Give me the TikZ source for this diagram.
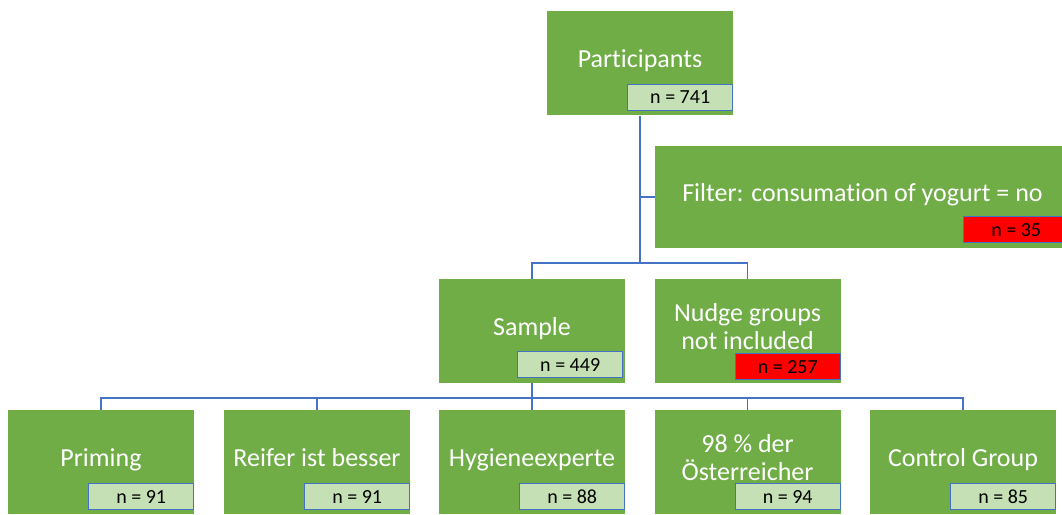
\documentclass[tikz,border=0pt]{standalone}
\usepackage{fontspec}
\setmainfont{Carlito}[Ligatures=NoCommon]
\usepackage{tikz}
\usetikzlibrary{positioning}
\definecolor{boxgreen}{HTML}{70AD47}
\definecolor{nlight}{HTML}{C5E0B4}
\definecolor{lineblue}{HTML}{4472C4}
\definecolor{nred}{HTML}{FF0000}
\begin{document}
\begin{tikzpicture}[x=1pt,y=1pt,
  grp/.style={fill=boxgreen,text=white,minimum width=186pt,minimum height=104pt,
    inner sep=0pt,align=center,text depth=9pt,font=\fontsize{26}{28}\selectfont},
  nlab/.style={fill=nlight,draw=lineblue,line width=1pt,minimum width=105pt,minimum height=26pt,
    inner sep=0pt,anchor=south east,font=\fontsize{20}{22}\selectfont},
  nout/.style={nlab,fill=nred},
  conn/.style={draw=lineblue,line width=1.4pt}]
  \useasboundingbox (0,0) rectangle (1062,514);
  \clip (0,0) rectangle (1062,514);

  \node[grp] (P) at (640,450.5) {Participants};
  \node[grp,minimum width=415pt,minimum height=102pt] (F) at (862.5,317) {Filter: consumation of yogurt = no};
  \node[grp] (S) at (532,183) {Sample};
  \node[grp] (N) at (747.5,183) {Nudge groups\\not included};
  \node[grp] (G1) at (101,52) {Priming};
  \node[grp] (G2) at (317,52) {Reifer ist besser};
  \node[grp] (G3) at (532,52) {Hygieneexperte};
  \node[grp] (G4) at (747.5,52) {98 \% der\\Österreicher};
  \node[grp] (G5) at (963,52) {Control Group};

  \node[nlab] (nP) at ([yshift=5pt]P.south east) {n = 741};
  \node[nout] (nF) at ([xshift=-1pt,yshift=5pt]F.south east) {n = 35};
  \node[nlab] (nS) at ([xshift=-2pt,yshift=5pt]S.south east) {n = 449};
  \node[nout] (nN) at ([yshift=3pt]N.south east) {n = 257};
  \foreach \g/\n in {G1/91,G2/91,G3/88,G4/94,G5/85}
    \node[nlab] (n\g) at ([yshift=4pt]\g.south east) {n = \n};

  \coordinate (splitA) at (640,251);
  \coordinate (splitB) at (532,116);
  \path[conn] (P.south) -- (splitA);
  \path[conn] (P.south |- F.west) -- (F.west);
  \path[conn] (S.north) |- (splitA) -| (N.north);
  \path[conn] (S.south) -- (splitB);
  \foreach \g in {G1,G2,G3,G4,G5}
    \path[conn] (splitB) -| (\g.north);
\end{tikzpicture}
\end{document}
